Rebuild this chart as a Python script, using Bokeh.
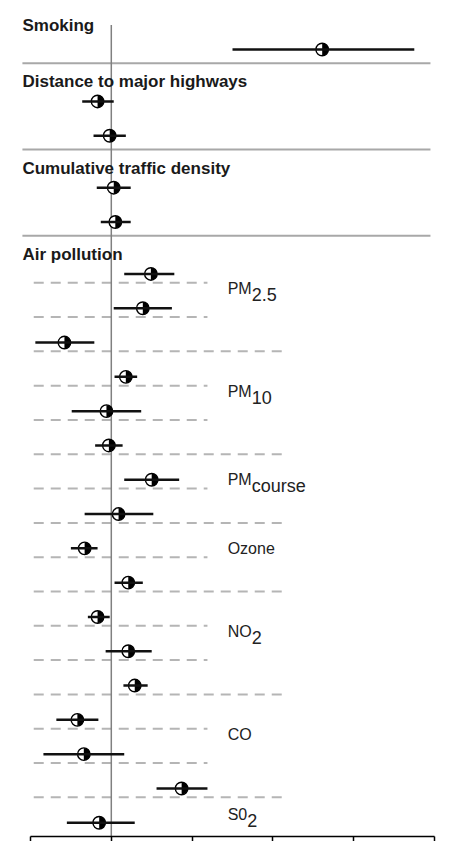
import math
from bokeh.plotting import figure
from bokeh.models import Range1d, LinearAxis, FixedTicker, ColumnDataSource
from bokeh.core.properties import value
from bokeh.embed import file_html
from bokeh.resources import INLINE

# ---------------- data ----------------
SECTIONS = ["Smoking", "Distance to major highways", "Cumulative traffic density", "Air pollution"]
SECTION_ROWS = [1, 2, 2, 17]

POLLUTANTS = ["PM", "PM", "PM", "Ozone", "NO", "CO", "S0"]
POLLUTANT_SUBS = ["2.5", "10", "course", "", "2", "", "2"]
POLLUTANT_ROWS = [3, 3, 2, 2, 3, 3, 1]

ESTIMATE = [2.61,
            -0.17, -0.02,
            0.03, 0.05,
            0.49, 0.39, -0.58,
            0.18, -0.06, -0.03,
            0.50, 0.09,
            -0.33, 0.21,
            -0.17, 0.21, 0.29,
            -0.42, -0.34, 0.87,
            -0.15]
LOWER = [1.50,
         -0.36, -0.22,
         -0.18, -0.13,
         0.16, 0.03, -0.94,
         0.04, -0.49, -0.20,
         0.16, -0.33,
         -0.50, 0.04,
         -0.29, -0.07, 0.15,
         -0.68, -0.84, 0.56,
         -0.55]
UPPER = [3.75,
         0.03, 0.18,
         0.24, 0.24,
         0.78, 0.75, -0.21,
         0.32, 0.37, 0.14,
         0.84, 0.52,
         -0.17, 0.39,
         -0.02, 0.50, 0.45,
         -0.16, 0.16, 1.19,
         0.29]
X_TICKS = [-1, 0, 1, 2, 3, 4]

# ---------------- layout (pixel-like units, downward) ----------------
ROW = 35
FIRST_HEAD_TO_ROW = 24
HEAD_TO_ROW = 20
ROW_TO_SEP = 14
SEP_TO_HEAD = 19
TOP_BASE = 26

row_y, head_y, sep_y = [], [], []
base = TOP_BASE
for k, n in enumerate(SECTION_ROWS):
    head_y.append(base)
    first = base + (FIRST_HEAD_TO_ROW if k == 0 else HEAD_TO_ROW)
    rows = [first + i * ROW for i in range(n)]
    row_y += rows
    if k < len(SECTION_ROWS) - 1:
        sep_y.append(rows[-1] + ROW_TO_SEP)
        base = rows[-1] + ROW_TO_SEP + SEP_TO_HEAD
axis_y = row_y[-1] + ROW_TO_SEP

HEAD_X = -1.10
SEP_X1 = 3.95
DASH_X0 = -0.96
DASH_SHORT_X1 = 1.19
DASH_LONG_X1 = 2.17
LABEL_X = 1.44

# char widths (Liberation Sans / Arial, per 1000 em) for subscript placement
CW = {"P": 667, "M": 833, "N": 722, "O": 778, "S": 667, "0": 556, "C": 722,
      "z": 500, "o": 556, "n": 556, "e": 556}
MAIN_SIZE = 16
SUB_SIZE = 18

p = figure(width=436, height=841, output_backend="svg", toolbar_location=None,
           x_axis_type=None, y_axis_type=None,
           x_range=Range1d(-1.3713, 4.0248), y_range=Range1d(-axis_y, 0),
           min_border_left=0, min_border_right=0, min_border_top=0, min_border_bottom=0)
p.outline_line_color = None
p.xgrid.visible = False
p.ygrid.visible = False
p.background_fill_color = "white"
p.border_fill_color = "white"

# separators
p.segment(x0=[HEAD_X] * len(sep_y), x1=[SEP_X1] * len(sep_y),
          y0=[-v for v in sep_y], y1=[-v for v in sep_y],
          line_color="#a8a8a8", line_width=2)

# dashed lines and labels in air pollution section
air_rows = row_y[sum(SECTION_ROWS[:-1]):]
dx0, dx1, dy = [], [], []
lab_y, lab_t = [], []
sub_y, sub_t, sub_off = [], [], []
idx = 0
for g, n in enumerate(POLLUTANT_ROWS):
    grp = air_rows[idx:idx + n]
    for i, yv in enumerate(grp):
        if g == len(POLLUTANT_ROWS) - 1 and i == n - 1:
            continue
        dx0.append(DASH_X0)
        dx1.append(DASH_LONG_X1 if i == n - 1 else DASH_SHORT_X1)
        dy.append(-(yv + 9))
    ly = grp[0] + max(15 * (n - 2), -8)
    lab_y.append(-ly)
    lab_t.append(POLLUTANTS[g])
    if POLLUTANT_SUBS[g]:
        sub_y.append(-(ly + 6))
        sub_t.append(POLLUTANT_SUBS[g])
        sub_off.append(sum(CW[c] for c in POLLUTANTS[g]) * MAIN_SIZE / 1000.0)
    idx += n
p.segment(x0=dx0, x1=dx1, y0=dy, y1=dy, line_color="#b5b5b5", line_width=2,
          line_dash="10 7")

# zero line
p.segment(x0=[0], x1=[0], y0=[-(TOP_BASE - 1)], y1=[-axis_y],
          line_color="#808080", line_width=1.5)

# section headers
p.text(x=[HEAD_X] * len(SECTIONS), y=[-v for v in head_y], text=SECTIONS,
       text_font=value("Liberation Sans"), text_font_style="bold",
       text_font_size="17px", text_color="#1a1a1a",
       text_baseline="alphabetic", text_align="left")

# pollutant labels
p.text(x=[LABEL_X] * len(lab_t), y=lab_y, text=lab_t,
       text_font=value("Liberation Sans"), text_font_size=f"{MAIN_SIZE}px",
       text_color="#222222", text_baseline="middle", text_align="left")
sub_src = ColumnDataSource(dict(x=[LABEL_X] * len(sub_t), y=sub_y, text=sub_t, xo=sub_off))
p.text(x="x", y="y", text="text", x_offset="xo", source=sub_src,
       text_font=value("Liberation Sans"), text_font_size=f"{SUB_SIZE}px",
       text_color="#222222", text_baseline="middle", text_align="left")

# estimates with confidence intervals
src = ColumnDataSource(dict(est=ESTIMATE, lo=LOWER, hi=UPPER, y=[-v for v in row_y]))
p.scatter(x="est", y="y", source=src, size=12.5, marker="circle",
          fill_color="white", line_color="black", line_width=1.4)
p.wedge(x="est", y="y", source=src, radius=6.2, radius_units="screen",
        start_angle=-math.pi / 2, end_angle=math.pi / 2,
        fill_color="black", line_color=None)
p.segment(x0="lo", x1="hi", y0="y", y1="y", source=src,
          line_color="#111111", line_width=2.5)

# bottom axis (tick marks only; the labels are cut off in the reference)
ax = LinearAxis(ticker=FixedTicker(ticks=[], minor_ticks=X_TICKS),
                bounds=(X_TICKS[0], X_TICKS[-1]),
                major_tick_out=0, major_tick_in=0, minor_tick_out=5, minor_tick_in=0,
                axis_line_color="black", axis_line_width=1.5,
                minor_tick_line_color="black", minor_tick_line_width=1.5,
                major_label_standoff=0)
p.add_layout(ax, "below")

open("out.html", "w").write(file_html(p, INLINE))
